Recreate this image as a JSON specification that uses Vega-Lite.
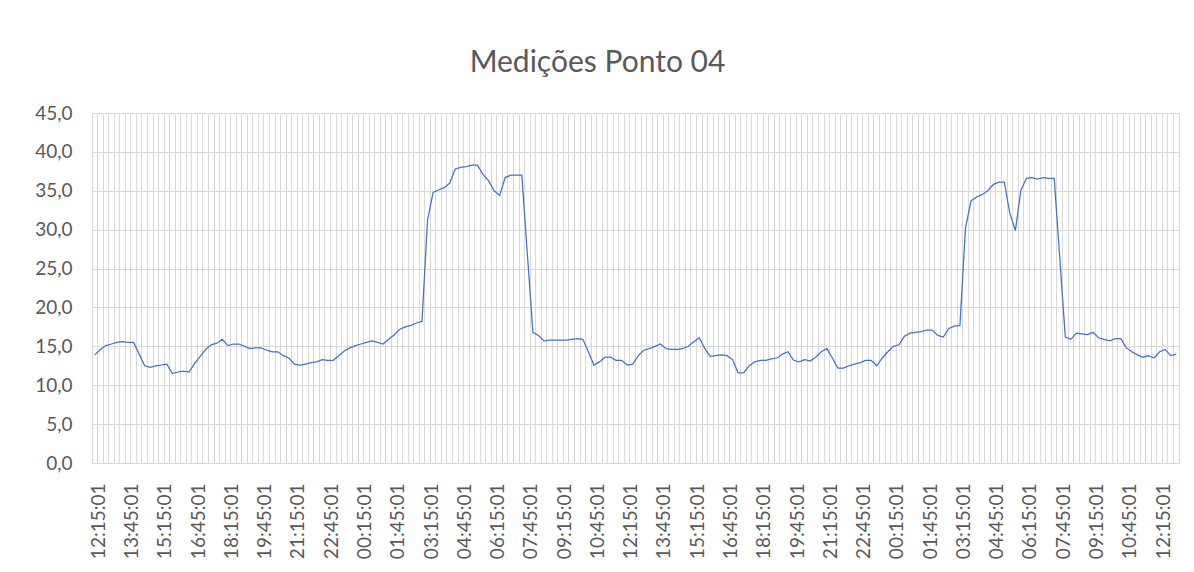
{
"$schema": "https://vega.github.io/schema/vega-lite/v6.json",
"width": 1087, "height": 350,
"autosize": {"type": "none"},
"padding": {"left": 92, "top": 113, "right": 15, "bottom": 109},
"background": "white",
"title": {"text": "Medições Ponto 04", "font": "Lato", "fontSize": 30, "fontWeight": "normal", "color": "#595959", "anchor": "middle", "dx": -38, "offset": 2, "baseline": "alphabetic"},
"data": {"values": [
{"k":"000 12:15:01","v":13.9},
{"k":"001 12:30:01","v":14.6},
{"k":"002 12:45:01","v":15.1},
{"k":"003 13:00:01","v":15.3},
{"k":"004 13:15:01","v":15.5},
{"k":"005 13:30:01","v":15.6},
{"k":"006 13:45:01","v":15.5},
{"k":"007 14:00:01","v":15.5},
{"k":"008 14:15:01","v":14.0},
{"k":"009 14:30:01","v":12.5},
{"k":"010 14:45:01","v":12.3},
{"k":"011 15:00:01","v":12.5},
{"k":"012 15:15:01","v":12.6},
{"k":"013 15:30:01","v":12.7},
{"k":"014 15:45:01","v":11.5},
{"k":"015 16:00:01","v":11.7},
{"k":"016 16:15:01","v":11.8},
{"k":"017 16:30:01","v":11.7},
{"k":"018 16:45:01","v":12.8},
{"k":"019 17:00:01","v":13.7},
{"k":"020 17:15:01","v":14.6},
{"k":"021 17:30:01","v":15.2},
{"k":"022 17:45:01","v":15.4},
{"k":"023 18:00:01","v":15.9},
{"k":"024 18:15:01","v":15.1},
{"k":"025 18:30:01","v":15.3},
{"k":"026 18:45:01","v":15.3},
{"k":"027 19:00:01","v":15.0},
{"k":"028 19:15:01","v":14.7},
{"k":"029 19:30:01","v":14.8},
{"k":"030 19:45:01","v":14.8},
{"k":"031 20:00:01","v":14.5},
{"k":"032 20:15:01","v":14.3},
{"k":"033 20:30:01","v":14.3},
{"k":"034 20:45:01","v":13.8},
{"k":"035 21:00:01","v":13.5},
{"k":"036 21:15:01","v":12.7},
{"k":"037 21:30:01","v":12.6},
{"k":"038 21:45:01","v":12.7},
{"k":"039 22:00:01","v":12.9},
{"k":"040 22:15:01","v":13.0},
{"k":"041 22:30:01","v":13.3},
{"k":"042 22:45:01","v":13.2},
{"k":"043 23:00:01","v":13.2},
{"k":"044 23:15:01","v":13.8},
{"k":"045 23:30:01","v":14.4},
{"k":"046 23:45:01","v":14.8},
{"k":"047 00:00:01","v":15.1},
{"k":"048 00:15:01","v":15.3},
{"k":"049 00:30:01","v":15.5},
{"k":"050 00:45:01","v":15.7},
{"k":"051 01:00:01","v":15.5},
{"k":"052 01:15:01","v":15.3},
{"k":"053 01:30:01","v":15.9},
{"k":"054 01:45:01","v":16.5},
{"k":"055 02:00:01","v":17.2},
{"k":"056 02:15:01","v":17.5},
{"k":"057 02:30:01","v":17.7},
{"k":"058 02:45:01","v":18.0},
{"k":"059 03:00:01","v":18.2},
{"k":"060 03:15:01","v":31.2},
{"k":"061 03:30:01","v":34.8},
{"k":"062 03:45:01","v":35.1},
{"k":"063 04:00:01","v":35.4},
{"k":"064 04:15:01","v":36.0},
{"k":"065 04:30:01","v":37.8},
{"k":"066 04:45:01","v":38.0},
{"k":"067 05:00:01","v":38.1},
{"k":"068 05:15:01","v":38.3},
{"k":"069 05:30:01","v":38.3},
{"k":"070 05:45:01","v":37.1},
{"k":"071 06:00:01","v":36.3},
{"k":"072 06:15:01","v":35.0},
{"k":"073 06:30:01","v":34.4},
{"k":"074 06:45:01","v":36.7},
{"k":"075 07:00:01","v":37.0},
{"k":"076 07:15:01","v":37.0},
{"k":"077 07:30:01","v":37.0},
{"k":"078 07:45:01","v":26.9},
{"k":"079 08:00:01","v":16.8},
{"k":"080 08:15:01","v":16.4},
{"k":"081 08:30:01","v":15.7},
{"k":"082 08:45:01","v":15.8},
{"k":"083 09:00:01","v":15.8},
{"k":"084 09:15:01","v":15.8},
{"k":"085 09:30:01","v":15.8},
{"k":"086 09:45:01","v":15.9},
{"k":"087 10:00:01","v":16.0},
{"k":"088 10:15:01","v":15.9},
{"k":"089 10:30:01","v":14.3},
{"k":"090 10:45:01","v":12.6},
{"k":"091 11:00:01","v":13.0},
{"k":"092 11:15:01","v":13.6},
{"k":"093 11:30:01","v":13.6},
{"k":"094 11:45:01","v":13.2},
{"k":"095 12:00:01","v":13.2},
{"k":"096 12:15:01","v":12.6},
{"k":"097 12:30:01","v":12.7},
{"k":"098 12:45:01","v":13.8},
{"k":"099 13:00:01","v":14.5},
{"k":"100 13:15:01","v":14.7},
{"k":"101 13:30:01","v":15.0},
{"k":"102 13:45:01","v":15.3},
{"k":"103 14:00:01","v":14.7},
{"k":"104 14:15:01","v":14.6},
{"k":"105 14:30:01","v":14.6},
{"k":"106 14:45:01","v":14.7},
{"k":"107 15:00:01","v":15.0},
{"k":"108 15:15:01","v":15.6},
{"k":"109 15:30:01","v":16.1},
{"k":"110 15:45:01","v":14.7},
{"k":"111 16:00:01","v":13.7},
{"k":"112 16:15:01","v":13.8},
{"k":"113 16:30:01","v":13.9},
{"k":"114 16:45:01","v":13.8},
{"k":"115 17:00:01","v":13.3},
{"k":"116 17:15:01","v":11.6},
{"k":"117 17:30:01","v":11.6},
{"k":"118 17:45:01","v":12.5},
{"k":"119 18:00:01","v":13.0},
{"k":"120 18:15:01","v":13.2},
{"k":"121 18:30:01","v":13.2},
{"k":"122 18:45:01","v":13.4},
{"k":"123 19:00:01","v":13.5},
{"k":"124 19:15:01","v":14.0},
{"k":"125 19:30:01","v":14.3},
{"k":"126 19:45:01","v":13.2},
{"k":"127 20:00:01","v":13.0},
{"k":"128 20:15:01","v":13.3},
{"k":"129 20:30:01","v":13.1},
{"k":"130 20:45:01","v":13.6},
{"k":"131 21:00:01","v":14.3},
{"k":"132 21:15:01","v":14.7},
{"k":"133 21:30:01","v":13.5},
{"k":"134 21:45:01","v":12.2},
{"k":"135 22:00:01","v":12.2},
{"k":"136 22:15:01","v":12.5},
{"k":"137 22:30:01","v":12.7},
{"k":"138 22:45:01","v":12.9},
{"k":"139 23:00:01","v":13.2},
{"k":"140 23:15:01","v":13.2},
{"k":"141 23:30:01","v":12.5},
{"k":"142 23:45:01","v":13.5},
{"k":"143 00:00:01","v":14.3},
{"k":"144 00:15:01","v":15.0},
{"k":"145 00:30:01","v":15.2},
{"k":"146 00:45:01","v":16.3},
{"k":"147 01:00:01","v":16.7},
{"k":"148 01:15:01","v":16.8},
{"k":"149 01:30:01","v":16.9},
{"k":"150 01:45:01","v":17.1},
{"k":"151 02:00:01","v":17.1},
{"k":"152 02:15:01","v":16.4},
{"k":"153 02:30:01","v":16.2},
{"k":"154 02:45:01","v":17.3},
{"k":"155 03:00:01","v":17.6},
{"k":"156 03:15:01","v":17.7},
{"k":"157 03:30:01","v":30.2},
{"k":"158 03:45:01","v":33.7},
{"k":"159 04:00:01","v":34.2},
{"k":"160 04:15:01","v":34.5},
{"k":"161 04:30:01","v":35.0},
{"k":"162 04:45:01","v":35.8},
{"k":"163 05:00:01","v":36.1},
{"k":"164 05:15:01","v":36.1},
{"k":"165 05:30:01","v":32.1},
{"k":"166 05:45:01","v":29.9},
{"k":"167 06:00:01","v":35.1},
{"k":"168 06:15:01","v":36.6},
{"k":"169 06:30:01","v":36.7},
{"k":"170 06:45:01","v":36.5},
{"k":"171 07:00:01","v":36.7},
{"k":"172 07:15:01","v":36.6},
{"k":"173 07:30:01","v":36.6},
{"k":"174 07:45:01","v":26.4},
{"k":"175 08:00:01","v":16.2},
{"k":"176 08:15:01","v":15.9},
{"k":"177 08:30:01","v":16.7},
{"k":"178 08:45:01","v":16.6},
{"k":"179 09:00:01","v":16.5},
{"k":"180 09:15:01","v":16.8},
{"k":"181 09:30:01","v":16.1},
{"k":"182 09:45:01","v":15.9},
{"k":"183 10:00:01","v":15.7},
{"k":"184 10:15:01","v":16.0},
{"k":"185 10:30:01","v":16.0},
{"k":"186 10:45:01","v":14.8},
{"k":"187 11:00:01","v":14.3},
{"k":"188 11:15:01","v":13.9},
{"k":"189 11:30:01","v":13.6},
{"k":"190 11:45:01","v":13.8},
{"k":"191 12:00:01","v":13.5},
{"k":"192 12:15:01","v":14.3},
{"k":"193 12:30:01","v":14.6},
{"k":"194 12:45:01","v":13.8},
{"k":"195 13:00:01","v":14.0}
]},
"mark": {"type": "line", "color": "#4472C4", "strokeWidth": 1.25},
"encoding": {
  "x": {"field": "k", "type": "ordinal", "bandPosition": 0.5,
    "scale": {"type": "band", "paddingInner": 0, "paddingOuter": 0},
    "axis": {"title": null, "bandPosition": 0, "grid": true, "gridColor": "#d9d9d9", "gridWidth": 1, "ticks": false, "domainColor": "#d9d9d9",
      "labelAngle": -90, "labelFont": "Lato", "labelFontSize": 19, "labelColor": "#595959", "labelPadding": 20, "labelOffset": 4,
      "labelOverlap": false, "labelBound": false,
      "labelExpr": "toNumber(slice(datum.value,0,3)) % 6 == 0 ? slice(datum.value,4) : ''"}},
  "y": {"field": "v", "type": "quantitative",
    "scale": {"domain": [0, 45], "nice": false, "zero": true},
    "axis": {"title": null, "values": [0, 5, 10, 15, 20, 25, 30, 35, 40, 45], "grid": true, "gridColor": "#d9d9d9", "gridWidth": 1,
      "domain": false, "ticks": false, "labelFont": "Lato", "labelFontSize": 19, "labelColor": "#595959", "labelPadding": 20,
      "labelExpr": "replace(format(datum.value,'.1f'),'.',',')"}}
},
"config": {"view": {"stroke": "#d9d9d9"}}
}
